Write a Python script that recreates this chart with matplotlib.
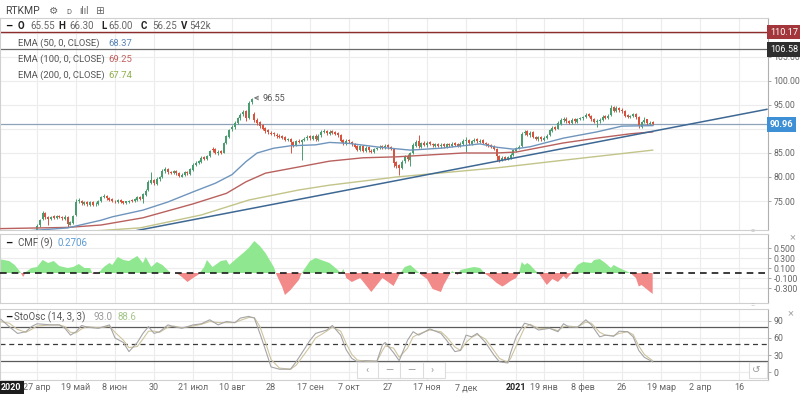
import numpy as np
import matplotlib.pyplot as plt
from matplotlib.patches import Rectangle

plt.rcParams['font.family'] = ['Roboto', 'DejaVu Sans']

# ---- свечи RTKMP (дневные бары) ----
opens = [65.55, 66.2, 66.5, 66.4, 66.2, 67.1, 66.9, 67.2, 67.7, 67.5, 68.1, 68.4, 68.0,
         68.8, 69.9, 71.2, 72.4, 71.7, 71.2, 71.8, 71.4, 71.9, 71.7, 71.3, 71.6, 70.1, 70.5,
         72.0, 74.9, 75.1, 74.4, 74.8, 74.2, 74.7, 74.3, 74.3, 74.9, 75.9, 76.1, 75.7, 75.4,
         75.1, 74.8, 75.3, 74.9, 74.5, 74.8, 75.2, 74.9, 75.3, 75.9, 75.4, 76.3,
         77.2, 78.8, 79.4, 78.6, 79.5, 80.0, 81.2, 81.7, 81.1, 80.8, 81.3, 80.9, 80.1, 80.4,
         81.1, 80.7, 81.5, 82.5, 83.0, 83.2, 84.1, 83.7, 84.4, 85.9, 85.8, 84.9, 85.4,
         85.1, 87.1, 88.4, 89.9, 90.4, 91.3, 92.2, 93.1, 93.8, 92.3, 95.6, 93.2, 91.9, 91.4,
         90.8, 90.2, 89.7, 89.2, 89.1, 88.8, 88.6, 88.5, 88.3, 87.7, 88.0, 87.3, 86.6, 87.6,
         87.2, 87.8, 88.1, 88.5, 88.0, 88.6, 87.8, 88.7, 89.4, 89.6, 89.0,
         89.5, 89.3, 89.1, 88.8, 87.7, 86.9, 87.7, 87.3, 86.9, 86.4, 85.6, 86.5, 85.4, 86.2,
         85.5, 85.2, 85.9, 86.1, 86.4, 86.0, 86.6, 86.3, 85.8, 83.1, 82.4, 81.9, 83.3, 84.4,
         83.6, 85.0, 86.5, 87.4, 86.3, 87.1, 86.6, 87.2, 86.8, 86.5, 86.9, 86.4, 86.8, 86.3,
         86.9, 86.5, 87.0, 86.8, 86.4, 86.8, 87.5, 87.8, 86.9, 87.4, 87.9, 87.3, 87.7, 87.1,
         86.9, 86.6, 86.4, 85.8, 84.4, 83.5, 84.1, 83.7, 84.0, 84.5, 85.5, 86.1, 86.5, 89.1,
         89.5, 88.7, 89.3, 88.3, 87.9, 88.4, 87.8, 88.1, 88.7, 89.6, 90.4, 90.1,
         91.1, 91.9, 92.1, 91.6, 91.2, 92.0, 91.5, 92.1, 92.2, 92.5, 93.1, 92.8, 92.1, 91.4,
         91.6, 91.8, 92.7, 92.2, 92.9, 94.6, 93.7, 94.4, 94.0, 93.8, 92.9, 92.5, 92.8, 93.2,
         92.5, 90.5, 91.5, 92.0, 91.1, 91.4]
highs = [66.30, 66.7, 66.8, 66.9, 67.3, 67.4, 67.6, 67.9, 68.0, 68.3, 68.7, 68.6, 69.0,
         70.2, 71.3, 72.9, 72.8, 71.9, 71.9, 72.0, 72.0, 72.1, 71.9, 72.1, 71.8, 70.9, 72.1,
         75.4, 75.6, 75.3, 75.0, 75.0, 75.1, 74.9, 74.7, 75.2, 76.1, 76.4, 76.3, 75.9, 75.6,
         75.3, 75.4, 75.5, 75.1, 75.1, 75.3, 75.4, 75.6, 76.0, 76.1, 76.6, 77.4,
         79.3, 81.0, 79.6, 79.9, 80.3, 81.6, 82.0, 81.9, 81.3, 81.4, 81.5, 81.1, 80.8, 81.2,
         81.3, 81.8, 82.9, 83.3, 83.6, 84.3, 84.4, 84.6, 85.7, 86.2, 86.0, 85.6, 85.6,
         87.3, 88.8, 90.1, 90.9, 91.6, 92.6, 93.4, 94.0, 94.0, 95.8, 96.55, 93.5, 92.2, 91.6,
         91.0, 90.4, 90.0, 89.5, 89.3, 89.1, 88.9, 88.8, 88.5, 88.2, 88.2, 87.5, 87.8, 87.9,
         88.0, 88.4, 88.7, 88.8, 88.8, 88.9, 88.9, 89.7, 89.9, 89.8, 89.7,
         89.8, 89.6, 89.4, 89.0, 87.9, 87.9, 88.0, 87.5, 87.1, 86.6, 86.7, 86.7, 86.4, 86.4,
         85.8, 86.1, 86.3, 86.6, 86.7, 86.8, 86.9, 86.5, 86.0, 83.4, 82.7, 83.5, 84.6, 84.7,
         85.2, 87.0, 87.7, 88.75, 87.3, 87.4, 87.4, 87.5, 87.1, 87.1, 87.1, 87.0, 87.0, 87.1,
         87.1, 87.2, 87.3, 87.0, 87.2, 87.9, 88.4, 88.0, 87.8, 88.1, 88.1, 87.9, 87.9, 87.3,
         87.1, 86.8, 86.6, 86.0, 84.6, 84.3, 84.3, 84.4, 84.9, 85.9, 86.3, 86.6, 89.4, 89.7,
         89.7, 89.5, 89.5, 88.6, 88.6, 88.6, 88.5, 88.9, 90.0, 90.6, 90.7, 91.6,
         92.2, 92.4, 92.4, 91.9, 92.2, 92.3, 92.3, 92.6, 92.8, 93.4, 93.4, 93.0, 92.3, 92.0,
         92.2, 92.9, 92.9, 93.1, 95.0, 94.8, 94.7, 94.6, 94.3, 94.0, 93.1, 93.0, 93.4, 93.4,
         92.7, 91.7, 92.4, 92.1, 91.6, 91.6]
lows = [65.00, 65.9, 65.8, 66.1, 66.0, 66.5, 66.7, 67.0, 67.1, 67.3, 67.9, 67.8, 67.8,
        68.6, 69.6, 71.0, 71.2, 70.0, 71.0, 71.3, 71.2, 71.4, 71.1, 71.1, 69.5, 69.9, 70.3,
        71.9, 74.6, 74.2, 74.1, 74.0, 74.0, 73.9, 74.0, 74.1, 74.8, 75.6, 75.3, 74.9, 74.7,
        74.6, 74.6, 74.5, 74.3, 74.3, 74.6, 74.8, 74.7, 75.1, 75.2, 74.6, 76.0,
        77.0, 78.5, 78.4, 78.4, 79.2, 79.8, 80.9, 80.7, 80.6, 80.6, 80.5, 79.9, 79.9, 80.2,
        80.5, 80.5, 81.3, 82.2, 82.7, 83.0, 83.5, 83.5, 84.2, 85.3, 84.7, 84.6, 84.7,
        84.9, 86.9, 88.2, 89.6, 90.1, 91.0, 91.9, 92.8, 91.6, 92.1, 95.2, 91.4, 90.9, 90.3,
        89.7, 89.2, 89.0, 88.7, 88.6, 88.2, 88.1, 87.9, 87.5, 87.4, 85.0, 86.2, 86.4, 87.0,
        83.5, 87.6, 87.8, 87.8, 87.7, 87.6, 87.5, 88.4, 89.1, 88.8, 88.7,
        88.9, 88.7, 88.4, 87.3, 86.6, 86.7, 87.1, 86.4, 86.0, 85.4, 85.4, 85.2, 85.2, 85.3,
        85.0, 85.0, 85.6, 85.8, 85.8, 85.8, 85.9, 85.6, 82.0, 81.9, 80.4, 81.7, 83.0, 83.4,
        82.3, 84.8, 86.2, 86.1, 86.0, 86.4, 86.3, 86.6, 86.3, 86.2, 86.2, 86.1, 86.1, 86.0,
        86.3, 86.3, 86.4, 86.2, 86.2, 86.6, 85.2, 86.7, 86.7, 87.2, 87.1, 87.1, 86.8, 86.5,
        86.2, 86.0, 85.6, 83.4, 83.2, 83.3, 83.5, 83.5, 83.8, 84.3, 85.2, 85.8, 86.3, 88.8,
        88.5, 88.4, 88.1, 87.7, 87.6, 87.6, 87.5, 87.9, 88.5, 89.3, 89.7, 89.9,
        90.8, 91.5, 91.3, 91.0, 91.0, 91.3, 91.3, 91.8, 91.9, 92.2, 92.4, 91.7, 91.2, 90.5,
        91.3, 91.6, 92.0, 92.0, 92.7, 93.5, 93.5, 93.6, 93.4, 92.5, 92.3, 92.2, 92.5, 92.1,
        90.3, 90.3, 91.2, 90.9, 90.8, 90.8]
closes = [66.25, 66.4, 66.1, 66.6, 67.0, 66.8, 67.3, 67.6, 67.4, 68.0, 68.3, 68.1, 68.7,
          69.8, 71.0, 72.5, 71.6, 71.2, 71.7, 71.5, 71.8, 71.6, 71.4, 71.7, 70.2, 70.6, 71.9,
          74.8, 75.2, 74.5, 74.7, 74.3, 74.8, 74.2, 74.4, 74.9, 75.8, 76.0, 75.6, 75.3, 75.0,
          74.9, 75.2, 74.8, 74.6, 74.9, 75.1, 75.0, 75.4, 75.8, 75.5, 76.4, 77.1,
          78.9, 79.3, 78.7, 79.6, 79.9, 81.3, 81.6, 81.0, 80.9, 81.2, 80.8, 80.2, 80.5, 81.0,
          80.8, 81.6, 82.6, 82.9, 83.3, 84.0, 83.8, 84.3, 85.4, 85.7, 85.0, 85.3, 85.0,
          87.0, 88.5, 89.8, 90.5, 91.2, 92.3, 93.0, 93.6, 92.2, 95.5, 96.3, 91.8, 91.3, 90.6,
          90.0, 89.5, 89.3, 89.0, 88.9, 88.5, 88.4, 88.2, 87.8, 87.9, 87.2, 86.5, 87.5, 87.3,
          87.7, 88.0, 88.4, 88.1, 88.5, 87.9, 88.6, 89.3, 89.5, 89.1, 89.4,
          89.2, 89.0, 88.7, 87.6, 87.0, 87.6, 87.4, 86.8, 86.3, 85.7, 86.4, 85.5, 86.1, 85.6,
          85.3, 85.8, 86.0, 86.3, 86.1, 86.5, 86.2, 85.9, 83.0, 82.3, 81.8, 83.2, 84.3, 83.7,
          84.9, 86.6, 87.3, 86.4, 87.0, 86.7, 87.1, 86.9, 86.6, 86.8, 86.5, 86.7, 86.4, 86.8,
          86.6, 86.9, 86.7, 86.5, 86.9, 87.6, 87.7, 87.0, 87.5, 87.8, 87.4, 87.6, 87.0, 86.8,
          86.5, 86.3, 85.9, 84.3, 83.6, 84.0, 83.8, 84.1, 84.6, 85.6, 86.0, 86.3, 89.0, 89.4,
          88.8, 89.2, 88.4, 88.0, 88.3, 87.9, 88.2, 88.6, 89.7, 90.3, 90.0, 91.2,
          91.8, 92.0, 91.7, 91.3, 91.9, 91.6, 92.0, 92.3, 92.4, 93.0, 92.7, 92.0, 91.5, 91.7,
          91.9, 92.6, 92.3, 92.8, 94.4, 93.8, 94.3, 93.9, 93.7, 92.8, 92.6, 92.7, 93.1, 92.4,
          90.6, 91.4, 91.9, 91.2, 91.3, 90.96]

# ---- EMA (точки по картинке, индекс бара -> значение) ----
ema50_idx = [0, 24, 36, 40, 51, 60, 69, 77, 83, 88, 92, 98, 104, 113, 118, 125, 136,
             147, 158, 172, 178, 184, 190, 202, 214, 223, 234]
ema50_val = [68.37, 69.4, 71.0, 71.7, 73.1, 74.8, 76.9, 78.7, 80.5, 83.2, 85.0, 86.0, 86.5,
             86.7, 87.2, 87.0, 86.2, 85.6, 86.0, 86.9, 86.2, 85.8, 86.3, 88.1, 89.4, 90.6, 90.7]
ema100_idx = [0, 24, 36, 51, 69, 81, 88, 95, 107, 118, 130, 142, 166, 178, 185, 202, 214, 226, 234]
ema100_val = [69.25, 69.5, 70.0, 71.5, 74.4, 76.6, 79.0, 80.8, 82.1, 83.3, 84.0, 84.2, 85.0,
              85.0, 85.2, 87.1, 88.1, 89.0, 89.4]
ema200_idx = [0, 24, 50, 72, 89, 107, 118, 142, 178, 202, 234]
ema200_val = [67.74, 68.4, 69.4, 72.1, 75.2, 77.3, 78.3, 80.0, 81.9, 83.5, 85.6]

# трендовая линия (две точки)
trend_idx = [0, 275]
trend_val = [63.4, 94.1]

# горизонтальные уровни
lvl_red = 110.17
lvl_gray = 106.58
last_price = 90.96

# ---- CMF (9) ----
cmf_idx = [0, 3, 5, 7, 8, 9, 11, 13, 15, 17, 19, 21, 24, 26, 28, 30, 32, 33, 35, 37,
           39, 40, 42, 44, 46, 49, 51, 52, 54, 56, 58, 61, 63, 65, 67, 69, 71, 73, 74, 76,
           79, 81, 82, 84, 87, 89, 91, 93, 95, 98, 99, 101, 102, 104, 107, 108, 111, 113, 116, 118,
           121, 122, 123, 124, 126, 129, 131, 133, 135, 137, 140, 141, 143, 145, 147, 149, 151, 153, 155, 158,
           159, 161, 162, 163, 164, 165, 168, 170, 172, 174, 176, 178, 180, 181, 183, 185, 186, 187, 188, 189,
           190, 192, 193, 195, 196, 198, 200, 202, 203, 205, 207, 209, 212, 213, 215, 217, 219, 220, 222, 224,
           226, 228, 229, 230, 232, 234]
cmf_val = [0.27, 0.24, 0.16, 0.02, -0.08, 0.02, 0.10, 0.12, 0.26, 0.20,
           0.24, 0.14, 0.10, 0.12, 0.18, 0.10, 0.10, -0.02, 0.0, 0.12,
           0.20, 0.16, 0.32, 0.26, 0.24, 0.34, 0.20, 0.32, 0.12, 0.22,
           0.16, 0.0, 0.0, -0.08, -0.18, -0.10, -0.03, 0.12, 0.26, 0.12,
           0.24, 0.26, 0.16, 0.26, 0.40, 0.50, 0.64, 0.54, 0.40, 0.12,
           -0.04, -0.28, -0.44, -0.34, -0.14, 0.0, 0.24, 0.30, 0.24, 0.20,
           0.06, 0.0, 0.08, -0.10, -0.18, -0.10, -0.24, -0.38, -0.24, -0.10,
           -0.22, -0.26, -0.04, 0.12, 0.16, 0.06, -0.04, -0.12, -0.32, -0.38,
           -0.24, -0.04, 0.04, 0.0, -0.04, 0.06, 0.10, 0.12, 0.10, -0.02,
           -0.10, -0.20, -0.27, -0.24, -0.16, -0.10, 0.0, 0.22, 0.16, 0.20,
           0.16, 0.04, 0.0, -0.16, -0.24, -0.12, -0.18, -0.06, -0.12, 0.0,
           0.16, 0.22, 0.20, 0.26, 0.28, 0.20, 0.10, 0.16, 0.10, 0.05,
           0.0, -0.10, -0.27, -0.24, -0.33, -0.42]

# ---- StoOsc (14, 3, 3) ----
sto_idx = [0, 3, 6, 9, 11, 13, 18, 21, 23, 25, 27, 29, 31, 35, 37, 39, 41, 44, 46, 49,
           51, 53, 55, 57, 60, 62, 65, 69, 72, 75, 78, 81, 84, 86, 89, 91, 93, 95, 97, 100,
           104, 106, 108, 111, 113, 117, 119, 122, 124, 126, 128, 131, 135, 137, 138, 141, 143, 146, 148, 150,
           154, 158, 160, 163, 165, 167, 169, 171, 174, 177, 179, 182, 183, 185, 188, 190, 193, 197, 200, 202,
           204, 207, 210, 212, 215, 217, 220, 222, 225, 227, 229, 231, 234]
sto_k = [93, 80, 68, 71, 80, 85, 83, 83, 77, 65, 71, 82, 79, 77, 80, 83, 60, 52, 36, 52,
         68, 80, 68, 71, 83, 80, 77, 83, 85, 92, 83, 89, 87, 95, 98, 95, 68, 39, 9, 5,
         5, 18, 33, 56, 68, 74, 82, 65, 39, 24, 18, 20, 19, 48, 52, 34, 20, 56, 71, 65,
         76, 68, 56, 36, 38, 65, 62, 68, 52, 30, 18, 16, 34, 62, 86, 83, 74, 77, 71, 85,
         79, 79, 92, 83, 62, 65, 63, 72, 71, 62, 38, 26, 18]
sto_d = [88.6, 86, 75, 70, 75, 81, 83, 83, 80, 70, 69, 76, 80, 78, 79, 81, 70, 56, 43, 45,
         58, 72, 72, 70, 79, 81, 78, 81, 84, 89, 87, 87, 87, 91, 96, 96, 80, 52, 22, 7,
         5, 12, 25, 45, 60, 72, 79, 72, 50, 31, 21, 19, 19, 38, 46, 42, 26, 42, 62, 67,
         74, 71, 62, 44, 38, 52, 61, 66, 58, 38, 24, 17, 24, 46, 78, 84, 77, 77, 73, 80,
         81, 79, 88, 86, 70, 65, 64, 68, 71, 66, 46, 31, 20]

# ---- ось времени ----
tick_idx = [13, 27, 41, 55, 69, 83, 97, 111, 125, 139, 153, 167, 185, 195, 209, 223, 237, 251, 265]
tick_lab = ['27 апр', '19 май', '8 июн', '30', '21 июл', '10 авг', '28', '17 сен', '7 окт',
            '27', '17 ноя', '7 дек', '2021', '19 янв', '8 фев', '26', '19 мар', '2 апр', '16']

UP, DOWN = '#4a9d6f', '#d6533f'
W, H = 800, 394


def fx(px):
    return px / W


def fy(py):
    return 1 - py / H


def ftxt(px, py, s, **kw):
    fig.text(fx(px), fy(py), s, va='center', ha='left', **kw)


fig = plt.figure(figsize=(8, 3.94), dpi=100)
ax = fig.add_axes([0, fy(230), fx(768), (230 - 18) / H])
ax_cmf = fig.add_axes([0, fy(303), fx(768), (303 - 234) / H], sharex=ax)
ax_st = fig.add_axes([0, fy(380), fx(768), (380 - 309) / H], sharex=ax)

ax.set_xlim(-0.3, 275.4)
ax.set_ylim(68.96, 113.12)
ax_cmf.set_ylim(-0.60, 0.78)
ax_st.set_ylim(-14, 111)

for a in (ax, ax_cmf, ax_st):
    a.yaxis.tick_right()
    a.tick_params(axis='y', length=2.5, width=0.6, color='#999999', labelsize=6.3,
                  labelcolor='#666666', pad=1.5)
    a.tick_params(axis='x', length=0)
    a.set_xticks(tick_idx)
    a.grid(axis='x', color='#ececec', lw=0.8, zorder=0)
    for s in a.spines.values():
        s.set_color('#d0d0d0')
        s.set_linewidth(0.8)
    a.spines['right'].set_color('#b0b0b0')
ax.tick_params(labelbottom=False)
ax_cmf.tick_params(labelbottom=False)

# --- основная панель ---
for v in range(75, 115, 5):
    ax.axhline(v, color='#ececec', lw=0.8, zorder=0)
ax.set_yticks([75, 80, 85, 95, 100, 105])
ax.set_yticklabels([f'{v:.2f}' for v in [75, 80, 85, 95, 100, 105]])

xb = np.arange(len(closes))
o = np.array(opens)
c = np.array(closes)
col = np.where(c >= o, UP, DOWN)
ax.vlines(xb, lows, highs, colors=col, lw=0.7, zorder=3)
ax.bar(xb, np.maximum(np.abs(c - o), 0.12), bottom=np.minimum(o, c), width=0.72,
       color=col, linewidth=0, zorder=4)

ax.plot(ema200_idx, ema200_val, color='#c2c489', lw=1.0, zorder=5)
ax.plot(ema100_idx, ema100_val, color='#b8615e', lw=1.0, zorder=5)
ax.plot(ema50_idx, ema50_val, color='#6f95bd', lw=1.0, zorder=5)
ax.plot(trend_idx, trend_val, color='#3e6894', lw=1.1, zorder=5)

ax.axhline(lvl_red, color='#8e2b2b', lw=1.0, zorder=2)
ax.axhline(lvl_gray, color='#6b6b6b', lw=0.9, zorder=2)
ax.axhline(last_price, color='#8da2b8', lw=0.9, zorder=2)


def price_tag(val, fc, bold=False):
    ax.annotate(f'{val:.2f}', xy=(1, val), xycoords=ax.get_yaxis_transform(),
                xytext=(1.5, 0), textcoords='offset points', va='center', ha='left',
                fontsize=6.6, color='white', weight='bold' if bold else 'normal',
                bbox=dict(boxstyle='square,pad=0.3', fc=fc, ec='none'),
                annotation_clip=False, zorder=10)


price_tag(lvl_red, '#a3363b')
price_tag(lvl_gray, '#2e2e2e')
price_tag(last_price, '#3d8fd6', bold=True)

ax.annotate('96.55', xy=(90.3, 96.5), xytext=(94, 96.35), fontsize=6.5, color='#555555',
            va='center', ha='left',
            arrowprops=dict(arrowstyle='->', color='#777777', lw=0.7, shrinkA=1, shrinkB=1))

# --- CMF ---
ax_cmf.set_yticks([0.5, 0.3, 0.1, -0.1, -0.3])
ax_cmf.set_yticklabels(['0.500', '0.300', '0.100', '-0.100', '-0.300'])
ax_cmf.grid(axis='y', color='#ececec', lw=0.8, zorder=0)
cx = np.array(cmf_idx)
cv = np.array(cmf_val)
ax_cmf.fill_between(cx, cv, 0, where=cv >= 0, interpolate=True, color='#8fe88f', lw=0, zorder=2)
ax_cmf.fill_between(cx, cv, 0, where=cv <= 0, interpolate=True, color='#f28a8a', lw=0, zorder=2)
ax_cmf.axhline(0, color='#1a1a1a', lw=1.2, ls=(0, (4, 3)), zorder=3)

# --- Stochastic ---
ax_st.set_yticks([90, 60, 30, 0])
ax_st.grid(axis='y', color='#ececec', lw=0.8, zorder=0)
ax_st.axhline(80, color='#5a5a5a', lw=0.9, zorder=2)
ax_st.axhline(20, color='#5a5a5a', lw=0.9, zorder=2)
ax_st.axhline(50, color='#3a3a3a', lw=0.9, ls=(0, (4, 3)), zorder=2)
ax_st.plot(sto_idx, sto_d, color='#cfc4a0', lw=0.8, zorder=3)
ax_st.plot(sto_idx, sto_k, color='#a5a5a5', lw=0.8, zorder=4)

ax_st.set_xticklabels(tick_lab)
ax_st.tick_params(axis='x', labelsize=6.5, labelcolor='#666666', pad=2.5)
for lbl in ax_st.get_xticklabels():
    if lbl.get_text() == '2021':
        lbl.set_color('#222222')
        lbl.set_fontweight('bold')

# --- подписи и элементы интерфейса ---
ftxt(1, 388, '2020', color='white', fontsize=6.5, weight='bold',
     bbox=dict(boxstyle='square,pad=0.25', fc='#1c1c1c', ec='none'))

ftxt(5, 11, 'RTKMP', fontsize=7.5, color='#444444')
ftxt(49, 11, '⚙', fontsize=7.5, color='#666666')
ftxt(66, 12, 'D', fontsize=5.5, color='#666666')
ftxt(79, 11, 'ılıl', fontsize=7, color='#666666')
ftxt(95, 11, '⊞', fontsize=7.5, color='#666666')

ftxt(5, 26, '–', fontsize=8, color='#111111', weight='bold')
for px, s, bold in [(18, 'O', True), (30, '65.55', False), (58, 'H', True), (69, '66.30', False),
                    (101, 'L', True), (108, '65.00', False), (141, 'C', True), (152, '56.25', False),
                    (181, 'V', True), (189, '542k', False)]:
    ftxt(px, 26, s, fontsize=7, color='#222222' if bold else '#666666',
         weight='bold' if bold else 'normal')

for py, lab, val, colr in [(43, 'EMA (50, 0, CLOSE)', '68.37', '#5a87b8'),
                           (59, 'EMA (100, 0, CLOSE)', '69.25', '#c0605c'),
                           (75, 'EMA (200, 0, CLOSE)', '67.74', '#8fb04a')]:
    ftxt(18, py, lab, fontsize=6.8, color='#555555')
    ftxt(108, py, val, fontsize=6.8, color=colr)

ftxt(5, 243, '–', fontsize=8, color='#111111', weight='bold')
ftxt(18, 243, 'CMF (9)', fontsize=7, color='#555555')
ftxt(58, 243, '0.2706', fontsize=7, color='#5b9bd5')

ftxt(5, 317, '–', fontsize=8, color='#111111', weight='bold')
ftxt(14, 317, 'StoOsc (14, 3, 3)', fontsize=7, color='#555555')
ftxt(93, 317, '93.0', fontsize=7, color='#999999')
ftxt(117, 317, '88.6', fontsize=7, color='#a5c78a')

ftxt(790, 237, '×', fontsize=8, color='#aaaaaa')
ftxt(788, 313, '×', fontsize=8, color='#aaaaaa')
ftxt(750, 231, '=', fontsize=5.5, color='#bbbbbb')
ftxt(750, 305, '=', fontsize=5.5, color='#bbbbbb')

# навигация
fig.patches.append(Rectangle((fx(357), fy(378)), fx(88), 16 / H, transform=fig.transFigure,
                             fc='white', ec='#dddddd', lw=0.8, zorder=20))
for px in (378, 400, 423):
    fig.lines.append(plt.Line2D([fx(px), fx(px)], [fy(378), fy(362)], transform=fig.transFigure,
                                color='#dddddd', lw=0.8, zorder=21))
for px, s in [(365, '‹'), (385, '—'), (407, '—'), (431, '›')]:
    ftxt(px, 370, s, fontsize=7.5, color='#999999', zorder=22)
fig.patches.append(Rectangle((fx(749), fy(378)), fx(18), 16 / H, transform=fig.transFigure,
                             fc='white', ec='#dddddd', lw=0.8, zorder=20))
ftxt(752, 370, '↺', fontsize=7.5, color='#999999', zorder=22)

fig.savefig('out.png', dpi=100)
